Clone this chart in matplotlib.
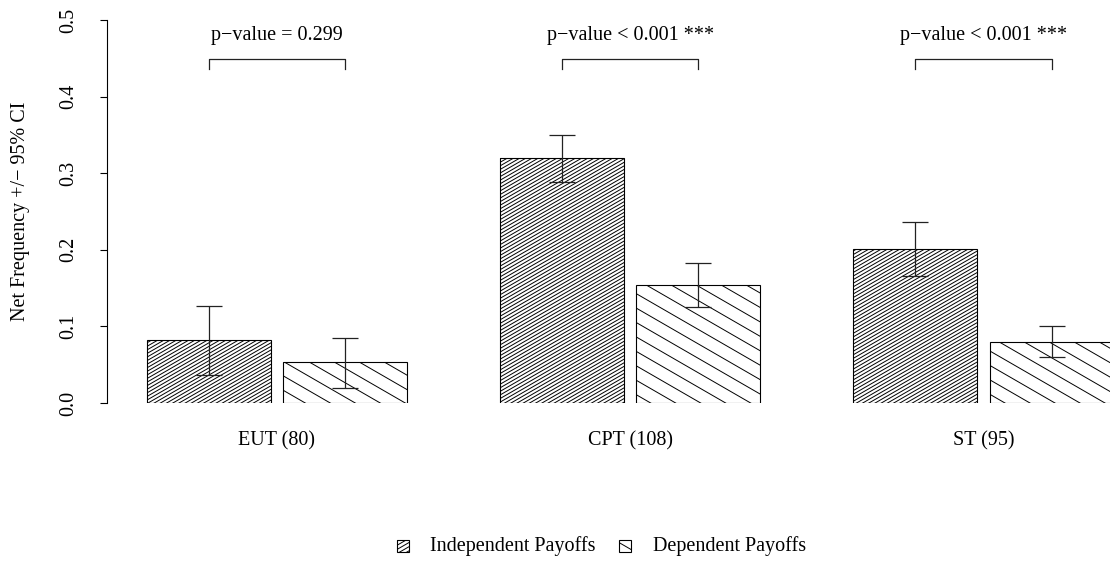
import numpy as np
import matplotlib
matplotlib.use("Agg")
import matplotlib.pyplot as plt
from matplotlib.patches import Rectangle
from matplotlib.lines import Line2D
from matplotlib.transforms import IdentityTransform

plt.rcParams['font.family'] = ['Liberation Serif', 'DejaVu Serif']

# data
groups = ["EUT (80)", "CPT (108)", "ST (95)"]
series = ["Independent Payoffs", "Dependent Payoffs"]
indep = [0.082, 0.320, 0.201]
indep_lo = [0.037, 0.289, 0.166]
indep_hi = [0.127, 0.350, 0.236]
dep = [0.053, 0.154, 0.080]
dep_lo = [0.020, 0.125, 0.060]
dep_hi = [0.085, 0.183, 0.100]
pvals = ["p\u2212value = 0.299", "p\u2212value < 0.001 ***", "p\u2212value < 0.001 ***"]

W, H = 1110, 564
fig = plt.figure(figsize=(W / 100, H / 100), dpi=100)
ax = fig.add_axes([107 / W, 161 / H, 1003 / W, 383 / H])
ax.set_xlim(0, 1003 / 124)
ax.set_ylim(0, 0.5)

for s in ["top", "right", "bottom"]:
    ax.spines[s].set_visible(False)
ax.spines["left"].set_linewidth(0.8)
ax.set_xticks([])
ax.set_yticks([0.0, 0.1, 0.2, 0.3, 0.4, 0.5])
ax.set_yticklabels(["0.0", "0.1", "0.2", "0.3", "0.4", "0.5"])
ax.tick_params(axis="y", length=5, width=0.8, pad=16, labelsize=14.5, labelrotation=90)
for lab in ax.get_yticklabels():
    lab.set_va("center")
ax.set_ylabel("Net Frequency +/\u2212 95% CI", fontsize=14.5, labelpad=21)

bw = 1.0
gap = 0.1
step = 2.85
first = 1.37


def hatch(patch, box, angle, spacing, target, z=3):
    # hatch lines in pixel coords, clipped to the patch outline
    x0, y0, x1, y1 = box
    th = np.deg2rad(angle)
    d = np.array([np.cos(th), np.sin(th)])
    n = np.array([-np.sin(th), np.cos(th)])
    c = np.array([(x0 + x1) / 2, (y0 + y1) / 2])
    R = np.hypot(x1 - x0, y1 - y0) / 2 + spacing
    k = int(R / spacing) + 1
    for i in range(-k, k + 1):
        p = c + n * i * spacing
        a, b = p - d * R, p + d * R
        ln = Line2D([a[0], b[0]], [a[1], b[1]], transform=IdentityTransform(),
                    color="black", lw=0.7, zorder=z)
        target.add_artist(ln)
        ln.set_clip_path(patch.get_path(), patch.get_transform())


styles = [(30, 3.1), (-30, 12.5)]
for g in range(3):
    cx = first + g * step
    xs = [cx - gap / 2 - bw / 2, cx + gap / 2 + bw / 2]
    vals = [indep[g], dep[g]]
    los = [indep_lo[g], dep_lo[g]]
    his = [indep_hi[g], dep_hi[g]]
    for j in range(2):
        r = Rectangle((xs[j] - bw / 2, 0), bw, vals[j], facecolor="white",
                      edgecolor="black", lw=0.8, zorder=2)
        ax.add_patch(r)
        bb = ax.transData.transform([[xs[j] - bw / 2, 0], [xs[j] + bw / 2, vals[j]]])
        hatch(r, (bb[0, 0], bb[0, 1], bb[1, 0], bb[1, 1]), styles[j][0], styles[j][1], ax)
        ax.errorbar(xs[j], vals[j], yerr=[[vals[j] - los[j]], [his[j] - vals[j]]],
                    fmt="none", ecolor="#222222", elinewidth=0.9, capsize=9.5,
                    capthick=0.9, zorder=4)
    # bracket with p-value
    ax.plot([xs[0], xs[0], xs[1], xs[1]], [0.436, 0.449, 0.449, 0.436],
            color="#222222", lw=0.9, clip_on=False)
    ax.text(cx, 0.480, pvals[g], ha="center", va="center", fontsize=14.5)
    ax.text(cx, -0.0496, groups[g], ha="center", va="center", fontsize=14.5, clip_on=False)

# legend at the bottom
leg = [(397, 430), (619, 653)]
legend_styles = [(30, 3.6), (-30, 12.5)]
for j in range(2):
    sx, tx = leg[j]
    y_top = H - 540
    r = Rectangle((sx, y_top - 12), 12, 12, transform=IdentityTransform(),
                  facecolor="white", edgecolor="black", lw=0.8, zorder=1)
    fig.add_artist(r)
    hatch(r, (sx, y_top - 12, sx + 12, y_top), legend_styles[j][0], legend_styles[j][1], fig, z=2)
    fig.text(tx / W, 1 - 546 / H, series[j], ha="left", va="center", fontsize=14.5)

fig.savefig("out.png", dpi=100)
